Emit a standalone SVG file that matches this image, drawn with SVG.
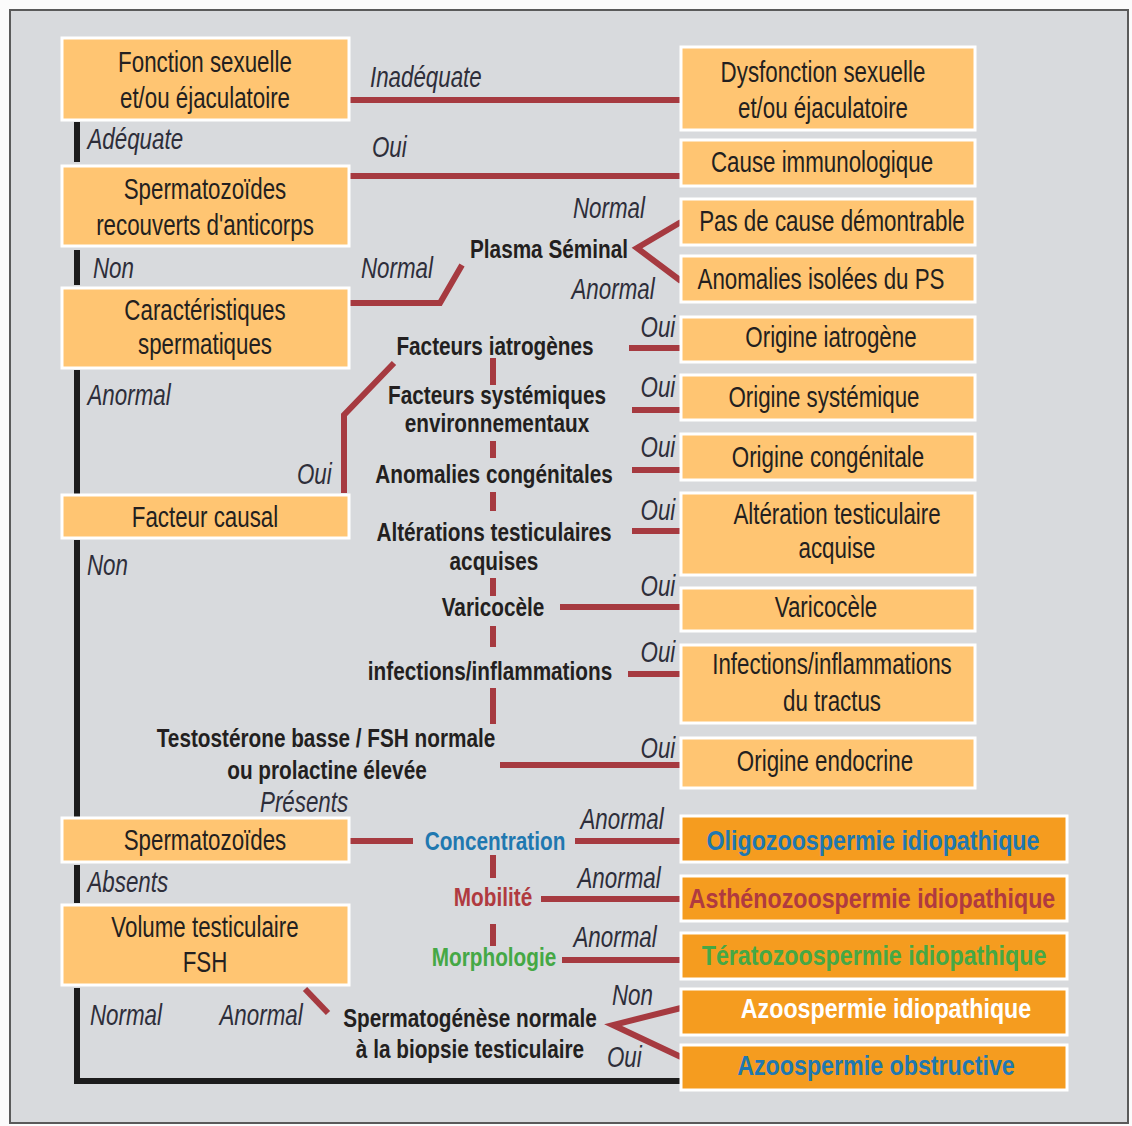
<svg xmlns="http://www.w3.org/2000/svg" width="1132" height="1126" viewBox="0 0 1132 1126">
<style>
.bx{fill:#FFC572;stroke:#ffffff;stroke-width:3}
.bx2{fill:#F59C1F;stroke:#ffffff;stroke-width:3}
text{font-family:"Liberation Sans",Arial,sans-serif;fill:#231f20;transform-box:fill-box}
.t{font-size:29px;text-anchor:middle;transform-origin:center;transform:scaleX(0.77)}
.b{font-size:25px;font-weight:bold;text-anchor:middle;transform-origin:center;transform:scaleX(0.83)}
.bb{font-size:28px;font-weight:bold;text-anchor:middle;transform-origin:center;transform:scaleX(0.83)}
.i{font-size:29px;font-style:italic;fill:#2e2e3a;transform-origin:left center;transform:scaleX(0.77)}
.ie{font-size:29px;font-style:italic;fill:#2e2e3a;text-anchor:end;transform-origin:right center;transform:scaleX(0.77)}
.r{stroke:#A63A40;stroke-width:6;fill:none}
.k{stroke:#1c1c1c;stroke-width:6;fill:none}
.blue{fill:#1F78B0}
.red{fill:#B03A40}
.green{fill:#45A845}
.white{fill:#ffffff}
</style>
<rect x="0" y="0" width="1132" height="1126" fill="#fbfbfb"/>
<rect x="10" y="10" width="1118" height="1113" fill="#D8DADD" stroke="#5a5a5a" stroke-width="2"/>

<g id="connectors">
<line class="k" x1="77" y1="122" x2="77" y2="162"/>
<line class="k" x1="77" y1="250" x2="77" y2="285"/>
<line class="k" x1="77" y1="370" x2="77" y2="494"/>
<line class="k" x1="77" y1="540" x2="77" y2="817"/>
<line class="k" x1="77" y1="865" x2="77" y2="903"/>
<polyline class="k" points="77,988 77,1081 681,1081"/>
<line class="r" x1="350" y1="100" x2="681" y2="100"/>
<line class="r" x1="350" y1="176" x2="681" y2="176"/>
<polyline class="r" points="350,303 440,303 462,265"/>
<polyline class="r" points="681,222 637,248 681,281"/>
<polyline class="r" points="344,493 344,415 394,363"/>
<line class="r" x1="493" y1="358" x2="493" y2="385"/>
<line class="r" x1="493" y1="441" x2="493" y2="458"/>
<line class="r" x1="493" y1="492" x2="493" y2="511"/>
<line class="r" x1="493" y1="578" x2="493" y2="596"/>
<line class="r" x1="493" y1="626" x2="493" y2="647"/>
<line class="r" x1="493" y1="688" x2="493" y2="724"/>
<line class="r" x1="629" y1="348" x2="681" y2="348"/>
<line class="r" x1="632" y1="410" x2="681" y2="410"/>
<line class="r" x1="632" y1="470" x2="681" y2="470"/>
<line class="r" x1="632" y1="531" x2="681" y2="531"/>
<line class="r" x1="560" y1="607" x2="681" y2="607"/>
<line class="r" x1="628" y1="674" x2="681" y2="674"/>
<line class="r" x1="500" y1="765" x2="681" y2="765"/>
<line class="r" x1="350" y1="841" x2="413" y2="841"/>
<line class="r" x1="575" y1="841" x2="681" y2="841"/>
<line class="r" x1="493" y1="855" x2="493" y2="878"/>
<line class="r" x1="493" y1="924" x2="493" y2="946"/>
<line class="r" x1="541" y1="899" x2="681" y2="899"/>
<line class="r" x1="562" y1="960" x2="681" y2="960"/>
<line class="r" x1="305" y1="989" x2="328" y2="1013"/>
<polyline class="r" points="681,1008 613,1025 681,1057"/>
</g>

<g id="labels">
<text class="i" x="370" y="87">Inadéquate</text>
<text class="i" x="88" y="149">Adéquate</text>
<text class="i" x="372" y="157">Oui</text>
<text class="i" x="573" y="218">Normal</text>
<text class="i" x="93" y="278">Non</text>
<text class="i" x="361" y="278">Normal</text>
<text class="i" x="572" y="299">Anormal</text>
<text class="ie" x="675" y="337">Oui</text>
<text class="i" x="88" y="405">Anormal</text>
<text class="ie" x="675" y="397">Oui</text>
<text class="ie" x="675" y="457">Oui</text>
<text class="i" x="297" y="484">Oui</text>
<text class="ie" x="675" y="520">Oui</text>
<text class="i" x="87" y="575">Non</text>
<text class="ie" x="675" y="596">Oui</text>
<text class="ie" x="675" y="662">Oui</text>
<text class="ie" x="675" y="758">Oui</text>
<text class="i" x="260" y="812">Présents</text>
<text class="i" x="581" y="829">Anormal</text>
<text class="i" x="88" y="892">Absents</text>
<text class="i" x="578" y="888">Anormal</text>
<text class="i" x="574" y="947">Anormal</text>
<text class="i" x="612" y="1005">Non</text>
<text class="i" x="90" y="1025">Normal</text>
<text class="i" x="220" y="1025">Anormal</text>
<text class="i" x="607" y="1067">Oui</text>
</g>

<g id="n-fonction"><rect class="bx" x="62" y="38" width="287" height="82"/><text class="t" x="205" y="72">Fonction sexuelle</text><text class="t" x="205" y="108">et/ou éjaculatoire</text></g>
<g id="n-anticorps"><rect class="bx" x="62" y="166" width="287" height="80"/><text class="t" x="205" y="199">Spermatozoïdes</text><text class="t" x="205" y="235">recouverts d'anticorps</text></g>
<g id="n-caract"><rect class="bx" x="62" y="288" width="287" height="80"/><text class="t" x="205" y="320">Caractéristiques</text><text class="t" x="205" y="354">spermatiques</text></g>
<g id="n-facteur"><rect class="bx" x="62" y="495" width="287" height="43"/><text class="t" x="205" y="527">Facteur causal</text></g>
<g id="n-spz"><rect class="bx" x="62" y="818" width="287" height="44"/><text class="t" x="205" y="850">Spermatozoïdes</text></g>
<g id="n-volume"><rect class="bx" x="62" y="905" width="287" height="80"/><text class="t" x="205" y="937">Volume testiculaire</text><text class="t" x="205" y="972">FSH</text></g>

<g id="n-dysf"><rect class="bx" x="681" y="47" width="294" height="83"/><text class="t" x="823" y="82">Dysfonction sexuelle</text><text class="t" x="823" y="118">et/ou éjaculatoire</text></g>
<g id="n-immuno"><rect class="bx" x="681" y="140" width="294" height="46"/><text class="t" x="822" y="172">Cause immunologique</text></g>
<g id="n-pas"><rect class="bx" x="681" y="199" width="294" height="46"/><text class="t" x="832" y="231">Pas de cause démontrable</text></g>
<g id="n-anops"><rect class="bx" x="681" y="256" width="294" height="46"/><text class="t" x="821" y="289">Anomalies isolées du PS</text></g>
<g id="n-iatro"><rect class="bx" x="681" y="317" width="294" height="45"/><text class="t" x="831" y="347">Origine iatrogène</text></g>
<g id="n-syst"><rect class="bx" x="681" y="375" width="294" height="45"/><text class="t" x="824" y="407">Origine systémique</text></g>
<g id="n-cong"><rect class="bx" x="681" y="434" width="294" height="46"/><text class="t" x="828" y="467">Origine congénitale</text></g>
<g id="n-alter"><rect class="bx" x="681" y="493" width="294" height="82"/><text class="t" x="837" y="524">Altération testiculaire</text><text class="t" x="837" y="558">acquise</text></g>
<g id="n-vari"><rect class="bx" x="681" y="588" width="294" height="43"/><text class="t" x="826" y="617">Varicocèle</text></g>
<g id="n-infect"><rect class="bx" x="681" y="645" width="294" height="78"/><text class="t" x="832" y="674">Infections/inflammations</text><text class="t" x="832" y="711">du tractus</text></g>
<g id="n-endo"><rect class="bx" x="681" y="738" width="294" height="50"/><text class="t" x="825" y="771">Origine endocrine</text></g>

<g id="n-oligo"><rect class="bx2" x="681" y="816" width="386" height="46"/><text class="bb blue" x="873" y="850">Oligozoospermie idiopathique</text></g>
<g id="n-astheno"><rect class="bx2" x="681" y="876" width="386" height="45"/><text class="bb red" x="872" y="908">Asthénozoospermie idiopathique</text></g>
<g id="n-terato"><rect class="bx2" x="681" y="933" width="386" height="46"/><text class="bb green" x="874" y="965">Tératozoospermie idiopathique</text></g>
<g id="n-azoi"><rect class="bx2" x="681" y="989" width="386" height="46"/><text class="bb white" x="886" y="1018">Azoospermie idiopathique</text></g>
<g id="n-azoo"><rect class="bx2" x="681" y="1045" width="386" height="45"/><text class="bb blue" x="876" y="1075">Azoospermie obstructive</text></g>

<g id="n-plasma"><text class="b" x="549" y="258">Plasma Séminal</text></g>
<g id="n-fiatro"><text class="b" x="495" y="355">Facteurs iatrogènes</text></g>
<g id="n-fsyst"><text class="b" x="497" y="404">Facteurs systémiques</text><text class="b" x="497" y="432">environnementaux</text></g>
<g id="n-acong"><text class="b" x="494" y="483">Anomalies congénitales</text></g>
<g id="n-atest"><text class="b" x="494" y="541">Altérations testiculaires</text><text class="b" x="494" y="570">acquises</text></g>
<g id="n-fvari"><text class="b" x="493" y="616">Varicocèle</text></g>
<g id="n-finf"><text class="b" x="490" y="680">infections/inflammations</text></g>
<g id="n-testo"><text class="b" x="326" y="747">Testostérone basse / FSH normale</text><text class="b" x="327" y="779">ou prolactine élevée</text></g>
<g id="n-conc"><text class="b blue" x="495" y="850">Concentration</text></g>
<g id="n-mob"><text class="b red" x="493" y="906">Mobilité</text></g>
<g id="n-morph"><text class="b green" x="494" y="966">Morphologie</text></g>
<g id="n-spermato"><text class="b" x="470" y="1027">Spermatogénèse normale</text><text class="b" x="470" y="1058">à la biopsie testiculaire</text></g>
</svg>
